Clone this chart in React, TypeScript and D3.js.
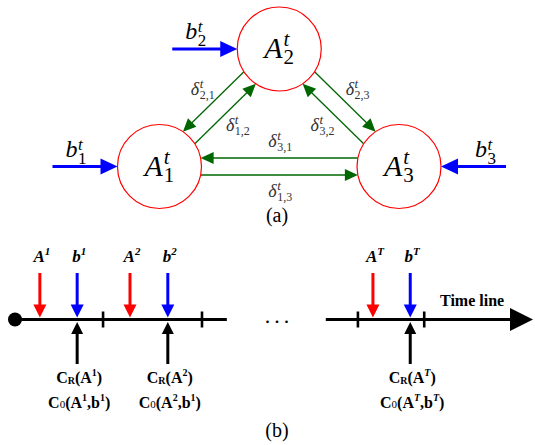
import React from "react";
import * as d3 from "d3";

// (a) three agents on a triangle: grid column / row of each node
const nodeIds = [1, 2, 3];
const nodeCol = [0, 1, 2];
const nodeRow = [1, 0, 1];

// directed exchanges delta^t_{from,to}; "outer" = drawn on the side away from the triangle centre
const edgeFrom = [2, 1, 2, 3, 3, 1];
const edgeTo = [1, 2, 3, 2, 1, 3];
const edgeOuter = [true, false, true, false, false, true];

// external inputs b^t_i
const inputNodes = [1, 2, 3];
const inputSide = ["left", "left", "right"];

// (b) time line, in time units
const segments = [
	[0, 4.09],
	[6.0, 10],
];
const periodTicks = [1.7, 3.61, 6.62, 7.9];
const arrivalT = [0.48, 1.2, 2.22, 2.95, 6.91, 7.63];
const arrivalKind = ["A", "b", "A", "b", "A", "b"];
const arrivalSup = ["1", "1", "2", "2", "T", "T"];
const decisionT = [1.2, 2.95, 7.63];
const decisionA = ["1", "2", "T"];
const decisionB = ["1", "1", "T"];
const gapT = 5.06;

const W = 535;
const H = 445;
const R = 42;
const GREEN = "#006600";
const F = "Liberation Serif";

export default function App() {
	const gx = d3.scaleLinear().domain([0, 2]).range([159.5, 399]);
	const gy = d3.scaleLinear().domain([0, 1]).range([49, 166.5]);
	const pos = (id: number) => {
		const i = nodeIds.indexOf(id);
		return { x: gx(nodeCol[i]), y: gy(nodeRow[i]) };
	};
	const centroid = {
		x: d3.mean(nodeIds, (id) => pos(id).x) as number,
		y: d3.mean(nodeIds, (id) => pos(id).y) as number,
	};

	const edges = edgeFrom.map((f, i) => {
		const p = pos(f);
		const q = pos(edgeTo[i]);
		const len = Math.hypot(q.x - p.x, q.y - p.y);
		const ux = (q.x - p.x) / len;
		const uy = (q.y - p.y) / len;
		let nx = -uy;
		let ny = ux;
		const mx = (p.x + q.x) / 2;
		const my = (p.y + q.y) / 2;
		const away = nx * (mx - centroid.x) + ny * (my - centroid.y) > 0;
		if (away !== edgeOuter[i]) {
			nx = -nx;
			ny = -ny;
		}
		const d = 8.5;
		const s = Math.sqrt(R * R - d * d);
		const x1 = p.x + ux * s + nx * d;
		const y1 = p.y + uy * s + ny * d;
		const x2 = q.x - ux * s + nx * d;
		const y2 = q.y - uy * s + ny * d;
		const hl = 13;
		const hw = 6;
		const bx = x2 - ux * hl;
		const by = y2 - uy * hl;
		const head = [
			[x2, y2],
			[bx + nx * hw, by + ny * hw],
			[bx - nx * hw, by - ny * hw],
		];
		return {
			key: `${f}-${edgeTo[i]}`,
			x1,
			y1,
			x2: x2 - ux * 8,
			y2: y2 - uy * 8,
			head,
			lx: mx + nx * 25,
			ly: my + ny * 25,
			sub: `${f},${edgeTo[i]}`,
		};
	});

	const tx = d3.scaleLinear().domain([0, 10]).range([15, 533]);
	const lineY = 319.5;
	const pts = (a: number[][]) => a.map((p) => p.join(",")).join(" ");

	return (
		<svg width={W} height={H} style={{ position: "absolute", left: 0, top: 0, background: "#fff" }}>
			{/* green exchange arrows */}
			{edges.map((e) => (
				<g key={e.key}>
					<line x1={e.x1} y1={e.y1} x2={e.x2} y2={e.y2} stroke={GREEN} strokeWidth={1.3} />
					<polygon points={pts(e.head)} fill={GREEN} />
					<text x={e.lx - 11} y={e.ly + 5} fontSize={18} fontFamily={F} fontStyle="italic" fill="#333">
						δ
						<tspan fontSize={13} dx={0.5} dy={-7}>
							t
						</tspan>
						<tspan fontSize={12} fontStyle="normal" dx={-3.6} dy={11}>
							{e.sub}
						</tspan>
					</text>
				</g>
			))}

			{/* nodes */}
			{nodeIds.map((id) => {
				const p = pos(id);
				return (
					<g key={id}>
						<circle cx={p.x} cy={p.y} r={R} fill="#fff" stroke="#ff0000" strokeWidth={1.2} />
						<text x={p.x - 15} y={p.y + 9} fontSize={30} fontFamily={F} fontStyle="italic" fill="#000">
							A
							<tspan fontSize={21} dx={1} dy={-12}>
								t
							</tspan>
							<tspan fontSize={21} fontStyle="normal" dx={-5.8} dy={18}>
								{id}
							</tspan>
						</text>
					</g>
				);
			})}

			{/* blue inputs */}
			{inputNodes.map((id, i) => {
				const p = pos(id);
				const dir = inputSide[i] === "left" ? 1 : -1;
				const head = p.x - dir * R;
				const tail = head - dir * 65;
				const base = head - dir * 17;
				const left = dir === 1 ? tail + 13 : tail - 31;
				return (
					<g key={id}>
						<line x1={tail} y1={p.y} x2={base + dir * 2} y2={p.y} stroke="#0000ff" strokeWidth={3} />
						<polygon
							points={pts([
								[head, p.y],
								[base, p.y - 8],
								[base, p.y + 8],
							])}
							fill="#0000ff"
						/>
						<text x={left} y={p.y - 10} fontSize={24} fontFamily={F} fontStyle="italic">
							b
							<tspan fontSize={17} dx={0.5} dy={-7}>
								t
							</tspan>
							<tspan fontSize={17} fontStyle="normal" dx={-4.7} dy={14}>
								{id}
							</tspan>
						</text>
					</g>
				);
			})}

			<text x={277} y={222} fontSize={20} fontFamily={F} textAnchor="middle">
				(a)
			</text>

			{/* (b) time line */}
			{segments.map((s, i) => (
				<line
					key={i}
					x1={tx(s[0])}
					x2={i === segments.length - 1 ? tx(s[1]) - 20 : tx(s[1])}
					y1={lineY}
					y2={lineY}
					stroke="#000"
					strokeWidth={3.2}
				/>
			))}
			<polygon
				points={pts([
					[tx(10), lineY],
					[tx(10) - 23, lineY - 11.5],
					[tx(10) - 23, lineY + 11.5],
				])}
				fill="#000"
			/>
			<circle cx={tx(0)} cy={lineY} r={7} fill="#000" />
			{periodTicks.map((t) => (
				<line key={t} x1={tx(t)} x2={tx(t)} y1={lineY - 8} y2={lineY + 8} stroke="#000" strokeWidth={2.6} />
			))}
			<text x={tx(gapT) + 2} y={lineY + 3} fontSize={22} fontFamily={F} textAnchor="middle" letterSpacing={4}>
				...
			</text>
			<text x={440} y={306} fontSize={16} fontFamily={F} fontWeight="bold">
				Time line
			</text>

			{arrivalT.map((t, i) => {
				const x = tx(t);
				const col = arrivalKind[i] === "A" ? "#ff0000" : "#0000ff";
				return (
					<g key={i}>
						<line x1={x} x2={x} y1={273} y2={306} stroke={col} strokeWidth={3} />
						<polygon
							points={pts([
								[x - 6.5, 304.5],
								[x + 6.5, 304.5],
								[x, 317.5],
							])}
							fill={col}
						/>
						<text
							x={x + 2}
							y={262}
							fontSize={17}
							fontFamily={F}
							fontWeight="bold"
							fontStyle="italic"
							textAnchor="middle"
						>
							{arrivalKind[i]}
							<tspan fontSize={11} dy={-7}>
								{arrivalSup[i]}
							</tspan>
						</text>
					</g>
				);
			})}

			{decisionT.map((t, i) => {
				const x = tx(t);
				return (
					<g key={i}>
						<line x1={x} x2={x} y1={332} y2={364} stroke="#000" strokeWidth={3} />
						<polygon
							points={pts([
								[x - 6, 334],
								[x + 6, 334],
								[x, 322],
							])}
							fill="#000"
						/>
						<text x={x + 2} y={383} fontSize={16} fontFamily={F} fontWeight="bold" textAnchor="middle">
							C
							<tspan fontSize={10} dy={1}>
								R
							</tspan>
							<tspan dy={-1}>(A</tspan>
							<tspan fontSize={10} dy={-7} fontStyle={decisionA[i] === "T" ? "italic" : "normal"}>
								{decisionA[i]}
							</tspan>
							<tspan dy={7}>)</tspan>
						</text>
						<text x={x + 2} y={408} fontSize={16} fontFamily={F} fontWeight="bold" textAnchor="middle">
							C
							<tspan fontSize={11} fontWeight="normal">
								0
							</tspan>
							<tspan>(A</tspan>
							<tspan fontSize={10} dy={-7} fontStyle={decisionA[i] === "T" ? "italic" : "normal"}>
								{decisionA[i]}
							</tspan>
							<tspan dy={7}>,b</tspan>
							<tspan fontSize={10} dy={-7} fontStyle={decisionB[i] === "T" ? "italic" : "normal"}>
								{decisionB[i]}
							</tspan>
							<tspan dy={7}>)</tspan>
						</text>
					</g>
				);
			})}

			<text x={277} y={437} fontSize={20} fontFamily={F} textAnchor="middle">
				(b)
			</text>
		</svg>
	);
}
